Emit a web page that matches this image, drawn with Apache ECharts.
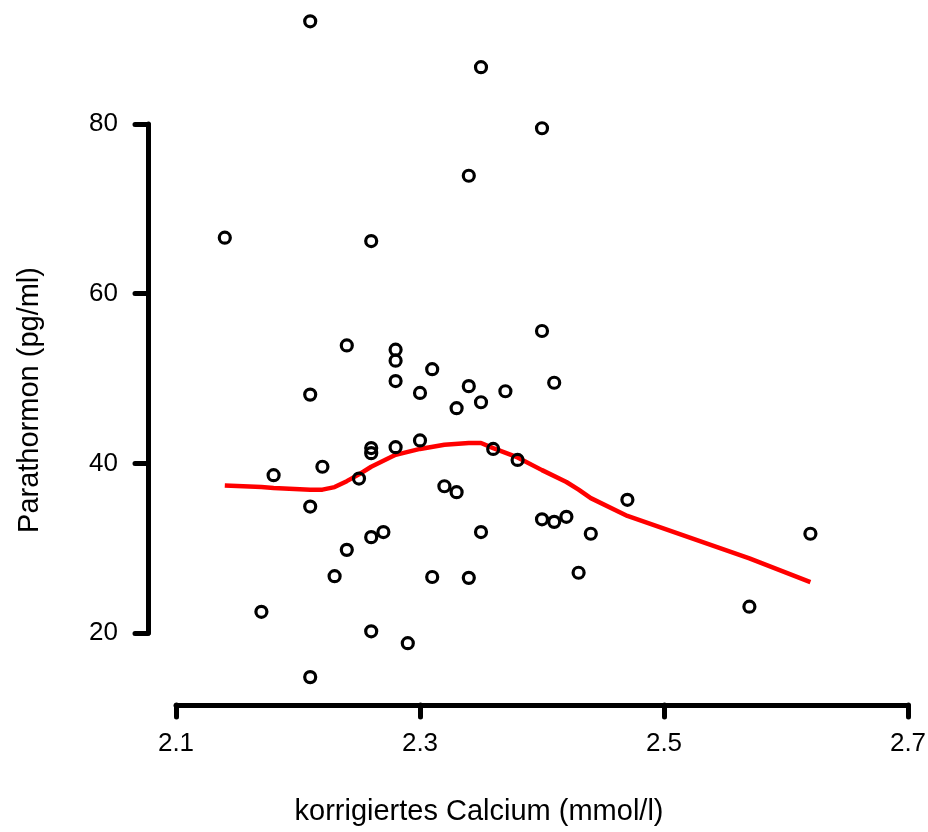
<!DOCTYPE html>
<html>
<head>
<meta charset="utf-8">
<script src="https://cdn.jsdelivr.net/npm/echarts@6/dist/echarts.min.js"></script>
<style>html,body{margin:0;padding:0;background:#fff}#c{width:928px;height:832px}</style>
</head>
<body>
<div id="c"></div>
<script>
// Scatter data: corrected calcium (mmol/l) and parathormone (pg/ml)
var calcium = [2.21,2.35,2.40,2.34,2.14,2.26,2.40,2.24,2.28,2.28,2.31,2.28,2.34,2.41,2.30,2.21,2.37,2.35,2.33,2.30,
               2.26,2.26,2.28,2.36,2.22,2.18,2.38,2.25,2.32,2.33,2.47,2.21,2.40,2.41,2.42,2.27,2.26,2.35,2.44,2.62,
               2.24,2.43,2.23,2.31,2.34,2.17,2.57,2.26,2.29,2.21];
var pth = [92.1,86.7,79.5,73.9,66.6,66.2,55.6,53.9,53.4,52.1,51.1,49.7,49.1,49.5,48.3,48.1,48.5,47.2,46.5,42.7,
           41.8,41.2,41.9,41.7,39.6,38.6,40.4,38.2,37.3,36.6,35.7,34.9,33.4,33.1,33.7,31.9,31.3,31.9,31.7,31.7,
           29.8,27.1,26.7,26.6,26.5,22.5,23.1,20.2,18.8,14.8];
// Lowess smoother
var lowessX = [2.14,2.17,2.18,2.21,2.22,2.23,2.24,2.25,2.26,2.28,2.30,2.32,2.34,2.35,2.36,2.38,2.40,2.42,2.43,2.44,2.47,2.57,2.62];
var lowessY = [37.4,37.2,37.1,36.9,36.9,37.2,37.9,38.7,39.6,41.0,41.7,42.2,42.4,42.4,41.8,40.7,39.2,37.8,36.9,35.9,33.8,28.8,26.0];
var xTicks = [2.1,2.3,2.5,2.7];
var yTicks = [20,40,60,80];
var xTitle = 'korrigiertes Calcium (mmol/l)';
var yTitle = 'Parathormon (pg/ml)';

var scatterData = calcium.map(function(v,i){return [v,pth[i]];});
var lineData = lowessX.map(function(v,i){return [v,lowessY[i]];});
var font = '"Liberation Sans", Arial, sans-serif';

var chart = echarts.init(document.getElementById('c'));
chart.setOption({
  animation:false,
  backgroundColor:'#fff',
  grid:{left:176,right:20,top:124,bottom:199,containLabel:false,outerBoundsMode:'none'},
  xAxis:{type:'value',min:2.1,max:2.7,offset:72,
    axisLine:{show:true,lineStyle:{color:'#000',width:5,cap:'round'}},
    axisTick:{show:true,length:12,lineStyle:{color:'#000',width:5,cap:'round'},customValues:xTicks},
    axisLabel:{color:'#000',fontSize:26,fontFamily:font,margin:26,customValues:xTicks,
      formatter:function(v){return v.toFixed(1);}},
    splitLine:{show:false}},
  yAxis:{type:'value',min:20,max:80,offset:28,
    axisLine:{show:true,lineStyle:{color:'#000',width:5,cap:'round'}},
    axisTick:{show:true,length:13,lineStyle:{color:'#000',width:5,cap:'round'},customValues:yTicks},
    axisLabel:{color:'#000',fontSize:26,fontFamily:font,margin:30,customValues:yTicks},
    splitLine:{show:false}},
  graphic:[
    {type:'text',x:479,y:812,style:{text:xTitle,font:'29px "Liberation Sans", Arial, sans-serif',fill:'#000',textAlign:'center',textVerticalAlign:'middle'}},
    {type:'text',x:30,y:400,rotation:Math.PI/2,style:{text:yTitle,font:'29px "Liberation Sans", Arial, sans-serif',fill:'#000',textAlign:'center',textVerticalAlign:'middle'}}
  ],
  series:[
    {type:'line',data:lineData,showSymbol:false,clip:false,z:2,
      lineStyle:{color:'#ff0000',width:4.5}},
    {type:'scatter',data:scatterData,clip:false,symbol:'circle',symbolSize:11,z:3,
      itemStyle:{color:'rgba(0,0,0,0)',borderColor:'#000',borderWidth:3.2,opacity:1}}
  ]
});
</script>
</body>
</html>
